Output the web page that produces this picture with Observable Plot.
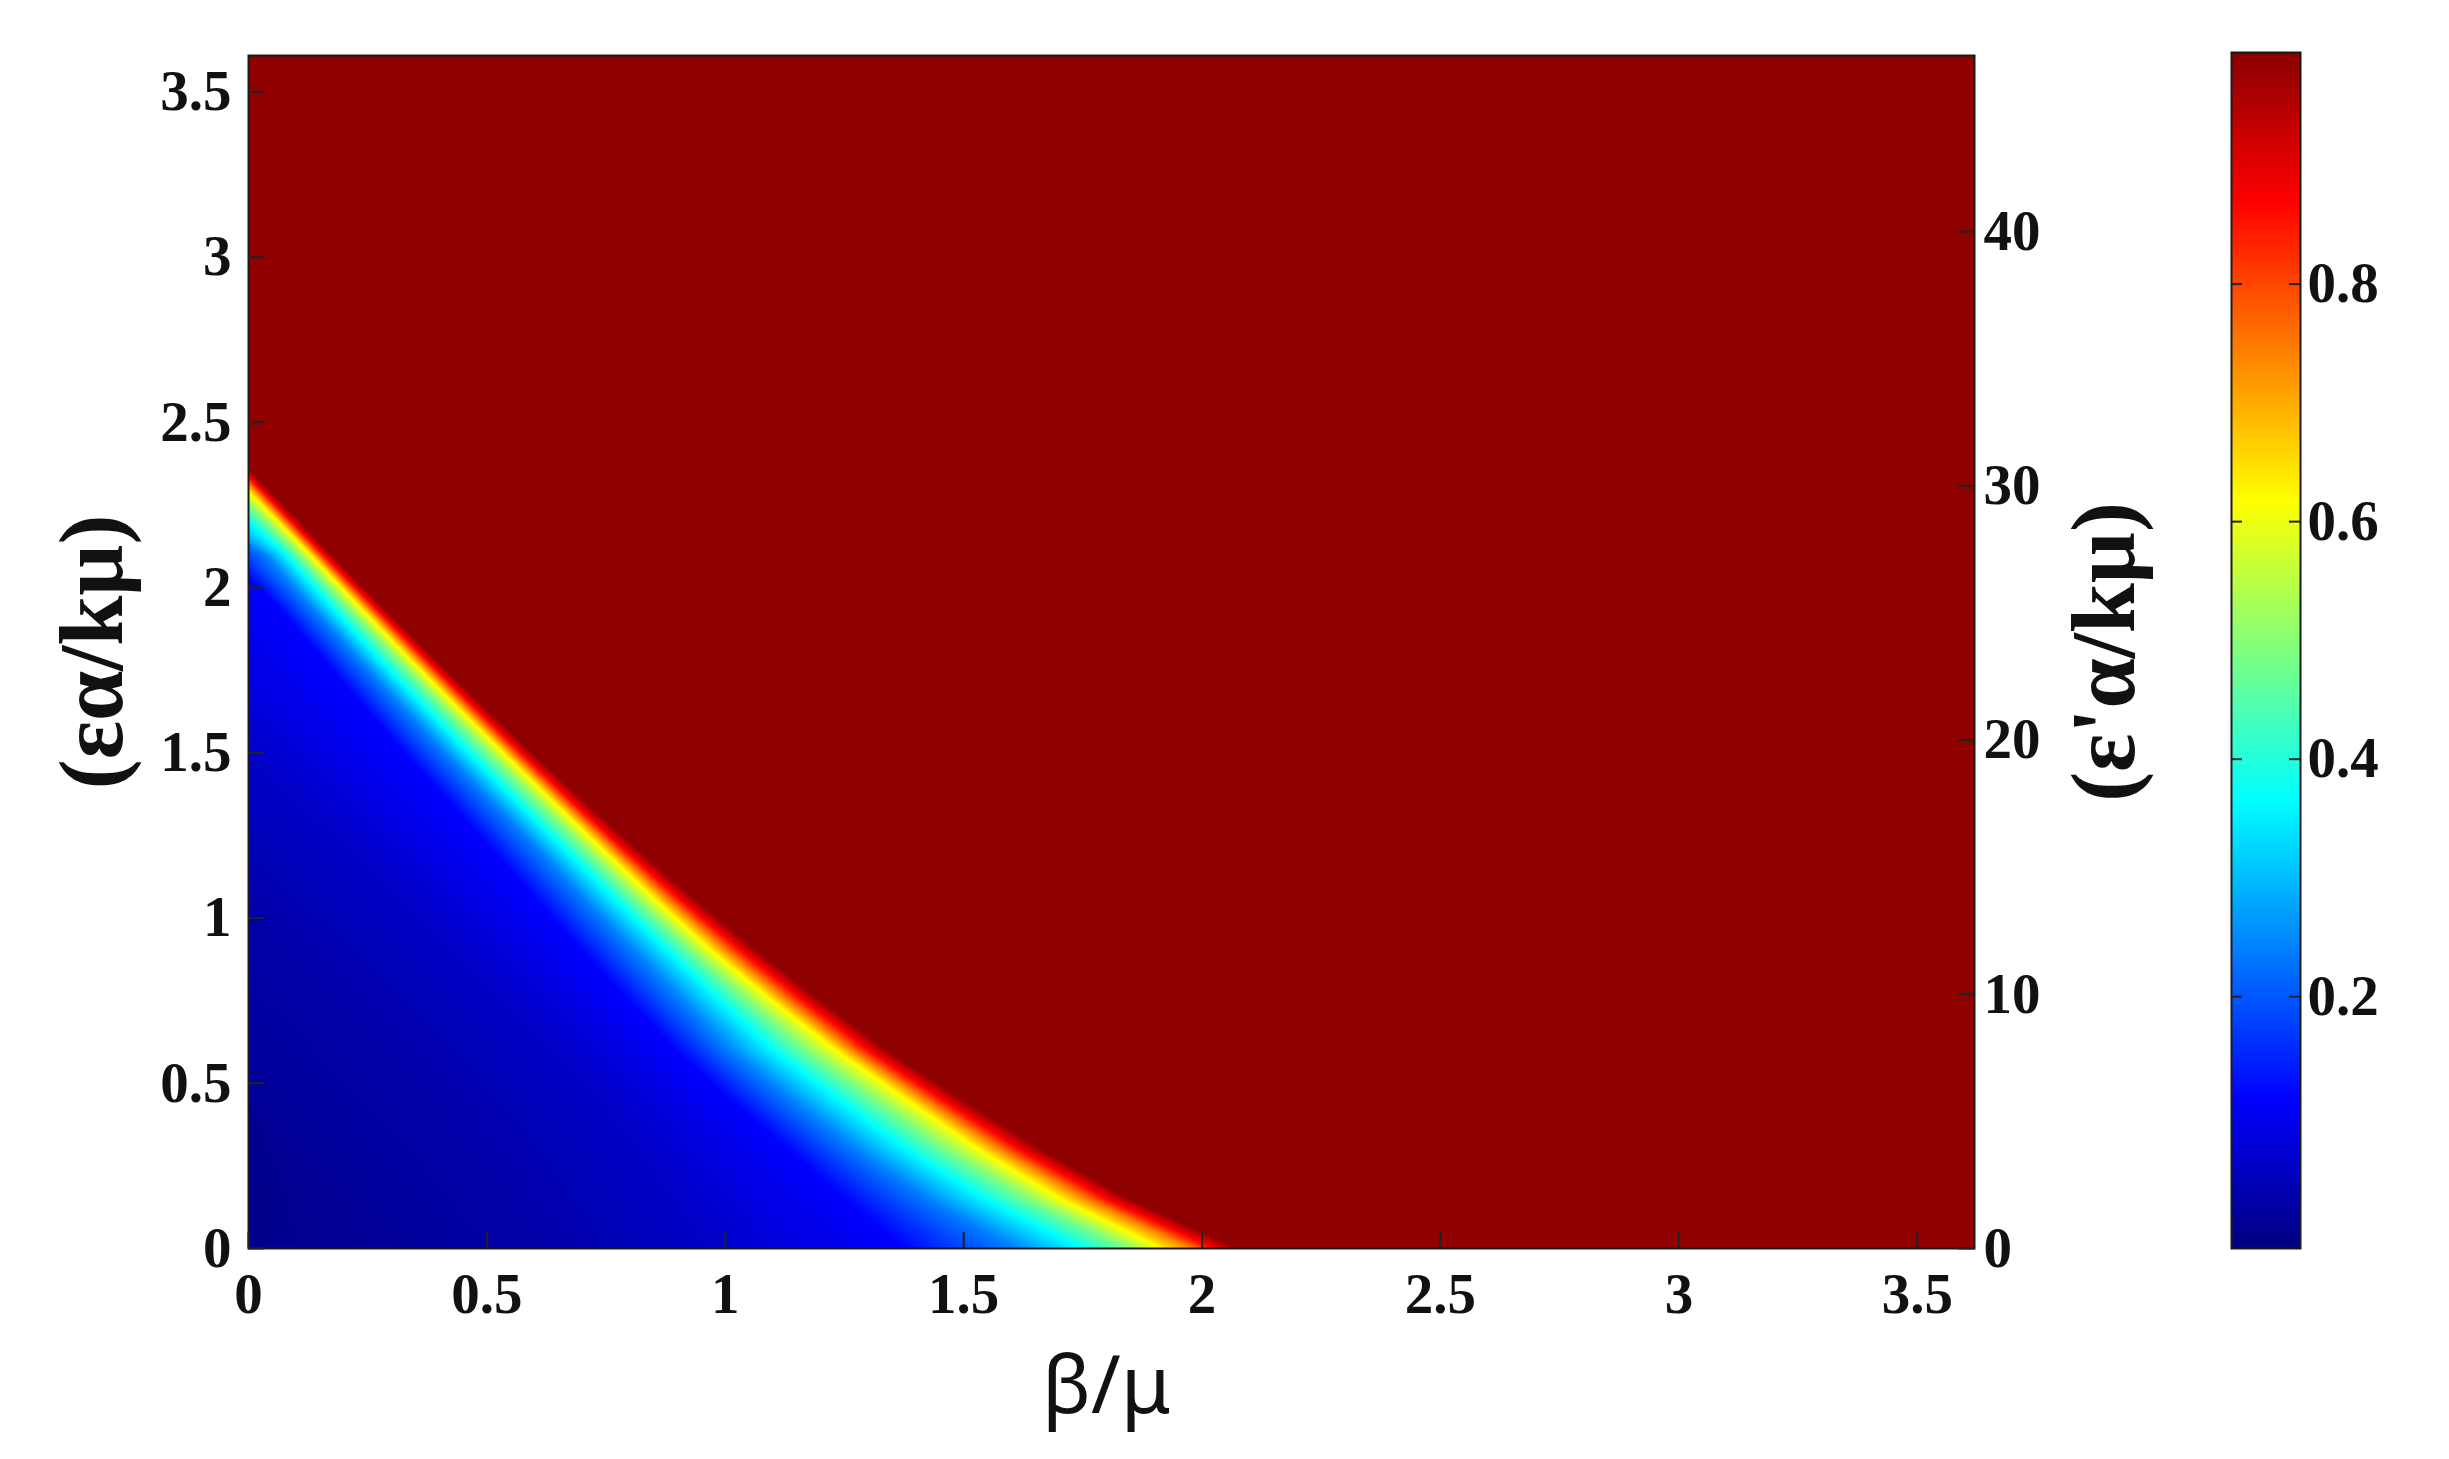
<!DOCTYPE html>
<html>
<head>
<meta charset="utf-8">
<script src="https://cdn.jsdelivr.net/npm/d3@7"></script>
<script src="https://cdn.jsdelivr.net/npm/@observablehq/plot@0.6"></script>
<style>
  html, body { margin: 0; padding: 0; background: #fff; }
  #wrap { position: relative; width: 2449px; height: 1459px; background: #fff; overflow: hidden; }
  #wrap > svg, #wrap > figure { position: absolute; margin: 0; }
</style>
</head>
<body>
<div id="wrap"></div>
<script>
// ---------- axes / ticks ----------
const xTicks = [0, 0.5, 1, 1.5, 2, 2.5, 3, 3.5];
const yTicks = [0, 0.5, 1, 1.5, 2, 2.5, 3, 3.5];
const xDomain = [0, 3.62];
const yDomain = [0, 3.61];
const rightTicks = [0, 10, 20, 30, 40];
const rightPerLeft = 13;                 // right axis units per left axis unit
const colorbarTicks = [0.2, 0.4, 0.6, 0.8];
const colorLo = -0.012, colorHi = 0.995; // colour bar extent
const jetPositions = [0, 0.125, 0.375, 0.625, 0.875, 1];
const jetColors = ["#000080", "#0000ff", "#00ffff", "#ffff00", "#ff0000", "#8a0000"];

// ---------- field: contour positions ----------
// value of each contour level (dark-red edge, red, orange, yellow, green, cyan, light blue, blue)
const levelValues = [0.99, 0.87, 0.745, 0.62, 0.49, 0.365, 0.24, 0.115];
// where each level meets the left edge (β/μ = 0)
const levelEdgeY = [2.36, 2.335, 2.315, 2.29, 2.25, 2.20, 2.13, 2.03];
// rows of εα/kμ at which the level positions (β/μ) were read
const rowY = [2.10, 1.95, 1.80, 1.65, 1.50, 1.35, 1.20, 1.05, 0.90, 0.75, 0.60, 0.45, 0.30, 0.15, 0.00];
const xDarkRed   = [0.175, 0.277, 0.381, 0.487, 0.596, 0.708, 0.824, 0.944, 1.070, 1.202, 1.341, 1.500, 1.665, 1.850, 2.075];
const xRed       = [0.157, 0.258, 0.361, 0.465, 0.572, 0.681, 0.794, 0.911, 1.035, 1.165, 1.301, 1.457, 1.618, 1.801, 2.025];
const xOrange    = [0.143, 0.243, 0.345, 0.448, 0.553, 0.661, 0.772, 0.885, 1.004, 1.132, 1.267, 1.421, 1.578, 1.758, 1.980];
const xYellow    = [0.129, 0.227, 0.327, 0.429, 0.534, 0.640, 0.748, 0.857, 0.972, 1.098, 1.232, 1.381, 1.532, 1.704, 1.915];
const xGreen     = [0.105, 0.201, 0.300, 0.400, 0.502, 0.606, 0.712, 0.818, 0.929, 1.047, 1.169, 1.314, 1.462, 1.635, 1.845];
const xCyan      = [0.077, 0.169, 0.264, 0.362, 0.462, 0.565, 0.669, 0.773, 0.880, 0.989, 1.101, 1.238, 1.380, 1.545, 1.747];
const xLightBlue = [0.035, 0.125, 0.220, 0.315, 0.411, 0.511, 0.611, 0.708, 0.808, 0.907, 1.008, 1.137, 1.272, 1.425, 1.607];
const xBlue      = [null,  0.057, 0.146, 0.235, 0.326, 0.421, 0.514, 0.606, 0.700, 0.797, 0.896, 1.010, 1.130, 1.250, 1.375];

// darker blue contours in the lower-left corner: [β/μ, εα/kμ]
const deepValues = [0.06, 0.03, 0.012];
const deep060 = [[0, 1.52], [0.32, 1.10], [0.57, 0.74], [0.81, 0.37], [0.99, 0]];
const deep030 = [[0, 1.04], [0.27, 0.69], [0.47, 0.35], [0.65, 0]];
const deep012 = [[0, 0.45], [0.15, 0.25], [0.30, 0]];
const originValue = 0.0;

// ---------- contour table (built from the arrays above) ----------
const contours = [];
[xDarkRed, xRed, xOrange, xYellow, xGreen, xCyan, xLightBlue, xBlue].forEach((xs, i) => {
  const pts = [];
  xs.forEach((x, j) => { if (x != null) pts.push([x, rowY[j]]); });
  pts.push([0, levelEdgeY[i]]);
  contours.push({v: levelValues[i], pts: pts.sort((a, b) => a[1] - b[1])});
});
[deep060, deep030, deep012].forEach((pts, i) =>
  contours.push({v: deepValues[i], pts: pts.slice().sort((a, b) => a[1] - b[1])}));

// position (β/μ) of a contour at height y, following its read points
function contourX(pts, y) {
  const n = pts.length;
  let i = 0;
  if (y >= pts[n - 1][1]) i = n - 2;
  else if (y > pts[0][1]) { while (pts[i + 1][1] < y) i++; }
  const [x0, y0] = pts[i], [x1, y1] = pts[i + 1];
  return x0 + (x1 - x0) * (y - y0) / (y1 - y0);
}
function field(x, y) {
  const cx = contours.map(c => contourX(c.pts, y));
  for (let i = 1; i < cx.length; i++) if (cx[i] >= cx[i - 1]) cx[i] = cx[i - 1] - 1e-6;
  if (x >= cx[0]) return contours[0].v;
  for (let i = 0; i < cx.length - 1; i++) {
    if (x >= cx[i + 1]) {
      const t = (x - cx[i + 1]) / (cx[i] - cx[i + 1]);
      return contours[i + 1].v + t * (contours[i].v - contours[i + 1].v);
    }
  }
  const last = contours[contours.length - 1], lx = cx[cx.length - 1];
  return lx > 0 ? originValue + (x / lx) * (last.v - originValue) : last.v;
}

// ---------- layout ----------
const W = 2449, H = 1459;
const mL = 248, mR = W - 1974, mT = 55, mB = H - 1248;
const frameW = W - mL - mR, frameH = H - mT - mB;
const serif = "'Liberation Serif', 'Times New Roman', serif";
const colorScale = {
  type: "linear",
  domain: jetPositions.map(t => colorLo + t * (colorHi - colorLo)),
  range: jetColors,
  interpolate: "rgb",
  clamp: true
};
const tickStroke = "#222";
const fmt = d => String(d);
const svgStyle = `font-family: ${serif}; font-weight: bold; font-size: 56px; max-width: none; background: transparent; overflow: visible;`;

const main = Plot.plot({
  width: W, height: H,
  marginLeft: mL, marginRight: mR, marginTop: mT, marginBottom: mB,
  style: svgStyle,
  x: {domain: xDomain, axis: null},
  y: {domain: yDomain, axis: null},
  color: colorScale,
  marks: [
    Plot.raster({fill: field, x1: xDomain[0], x2: xDomain[1], y1: yDomain[0], y2: yDomain[1]}),
    Plot.frame({stroke: "#1a1a1a", strokeWidth: 2}),
    Plot.tickX(xTicks, {x: d => d, insetTop: frameH - 16, stroke: tickStroke, strokeWidth: 2}),
    Plot.tickY(yTicks, {y: d => d, insetRight: frameW - 16, stroke: tickStroke, strokeWidth: 2}),
    Plot.axisX(xTicks, {anchor: "bottom", tickSize: 0, tickPadding: 24, label: null, tickFormat: fmt, fontSize: 57, fill: "#111"}),
    Plot.axisY(yTicks, {anchor: "left", tickSize: 0, tickPadding: 17, label: null, tickFormat: fmt, fontSize: 57, fill: "#111"}),
    Plot.text(["β/μ"], {frameAnchor: "bottom", textAnchor: "middle", lineAnchor: "middle", dx: -5, dy: 139, fontSize: 80,
      fontFamily: "'Noto Sans', 'DejaVu Sans', sans-serif", fontWeight: "normal", fill: "#111"}),
    Plot.text(["(εα/kμ)"], {frameAnchor: "left", textAnchor: "middle", lineAnchor: "middle", dx: -155, rotate: -90, fontSize: 90,
      fontFamily: serif, fontWeight: "bold", fill: "#111"})
  ]
});
main.style.left = "0px"; main.style.top = "0px";

const right = Plot.plot({
  width: W, height: H,
  marginLeft: mL, marginRight: mR, marginTop: mT, marginBottom: mB,
  style: svgStyle,
  x: {domain: [0, 1], axis: null},
  y: {domain: [yDomain[0] * rightPerLeft, yDomain[1] * rightPerLeft], axis: null},
  marks: [
    Plot.tickY(rightTicks, {y: d => d, insetLeft: frameW - 16, stroke: tickStroke, strokeWidth: 2}),
    Plot.axisY(rightTicks, {anchor: "right", tickSize: 0, tickPadding: 9, label: null, tickFormat: fmt, fontSize: 57, fill: "#111"}),
    Plot.text(["(ε'α/kμ)"], {frameAnchor: "right", textAnchor: "middle", lineAnchor: "middle", dx: 131, rotate: -90, fontSize: 90,
      fontFamily: serif, fontWeight: "bold", fill: "#111"})
  ]
});
right.style.left = "0px"; right.style.top = "0px";

// colour bar
const cbLeft = 2231, cbW = 69;
const cbar = Plot.plot({
  width: W - cbLeft, height: H,
  marginLeft: 0, marginRight: W - cbLeft - cbW, marginTop: 52, marginBottom: H - 1248,
  style: svgStyle,
  x: {domain: [0, 1], axis: null},
  y: {domain: [colorLo, colorHi], axis: null},
  color: colorScale,
  marks: [
    Plot.raster({fill: (x, y) => y, x1: 0, x2: 1, y1: colorLo, y2: colorHi}),
    Plot.frame({stroke: "#1a1a1a", strokeWidth: 2}),
    Plot.tickY(colorbarTicks, {y: d => d, insetRight: cbW - 11, stroke: tickStroke, strokeWidth: 2}),
    Plot.tickY(colorbarTicks, {y: d => d, insetLeft: cbW - 11, stroke: tickStroke, strokeWidth: 2}),
    Plot.axisY(colorbarTicks, {anchor: "right", tickSize: 0, tickPadding: 7, label: null,
      tickFormat: d3.format(".1f"), fontSize: 57, fill: "#111"})
  ]
});
cbar.style.left = cbLeft + "px"; cbar.style.top = "0px";

const wrap = document.getElementById("wrap");
wrap.appendChild(main);
wrap.appendChild(right);
wrap.appendChild(cbar);
</script>
</body>
</html>
